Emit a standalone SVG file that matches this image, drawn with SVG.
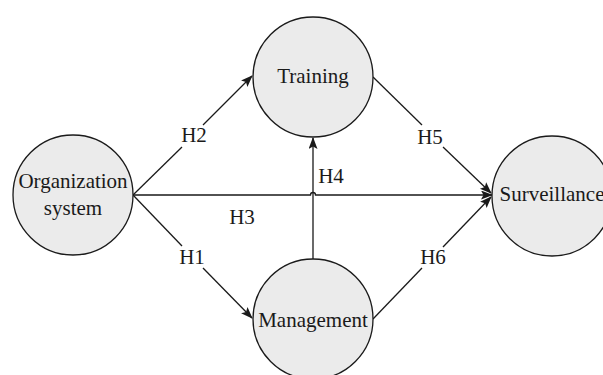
<svg xmlns="http://www.w3.org/2000/svg" width="603" height="375" viewBox="0 0 603 375">
<style>
.node{fill:#ebebeb;stroke:#1a1a1a;stroke-width:1.3}
.t{font-family:"Liberation Serif","Times New Roman",serif;font-size:21px;fill:#1a1a1a;text-anchor:middle}
.e{fill:none;stroke:#1a1a1a;stroke-width:1.3}
</style>
<defs>
<marker id="ah" markerWidth="12" markerHeight="10" refX="11" refY="4.5" orient="auto" markerUnits="userSpaceOnUse">
<path d="M0,0 L12,4.5 L0,9 L2.5,4.5 z" fill="#1a1a1a"/>
</marker>
</defs>
<rect width="603" height="375" fill="#ffffff"/>
<g id="connectors">
<line class="e" x1="133" y1="195" x2="182" y2="147"/>
<line class="e" x1="203" y1="125" x2="252" y2="76" marker-end="url(#ah)"/>
<line class="e" x1="133" y1="195" x2="182" y2="246"/>
<line class="e" x1="203" y1="268" x2="252" y2="318" marker-end="url(#ah)"/>
<path class="e" d="M133,195 L310.5,195 A2.5,2.5 0 0 1 315.5,195 L492,195" marker-end="url(#ah)"/>
<line class="e" x1="313" y1="259" x2="313" y2="138" marker-end="url(#ah)"/>
<line class="e" x1="373" y1="77" x2="422" y2="125"/>
<line class="e" x1="443" y1="147" x2="491" y2="193" marker-end="url(#ah)"/>
<line class="e" x1="373" y1="319" x2="422" y2="268"/>
<line class="e" x1="443" y1="247" x2="491" y2="197" marker-end="url(#ah)"/>
<text class="t" x="194" y="142">H2</text>
<text class="t" x="192" y="264">H1</text>
<text class="t" x="242" y="224">H3</text>
<text class="t" x="331" y="183">H4</text>
<text class="t" x="430" y="144">H5</text>
<text class="t" x="433" y="264">H6</text>
</g>
<g id="organization">
<circle class="node" cx="73" cy="195" r="60"/>
<text class="t" x="73" y="188">Organization</text>
<text class="t" x="73" y="215">system</text>
</g>
<g id="training">
<circle class="node" cx="313" cy="77" r="60"/>
<text class="t" x="313" y="83">Training</text>
</g>
<g id="management">
<circle class="node" cx="313" cy="319" r="60"/>
<text class="t" x="313" y="327">Management</text>
</g>
<g id="surveillance">
<circle class="node" cx="552" cy="196" r="60"/>
<text class="t" x="552" y="201">Surveillance</text>
</g>
</svg>
